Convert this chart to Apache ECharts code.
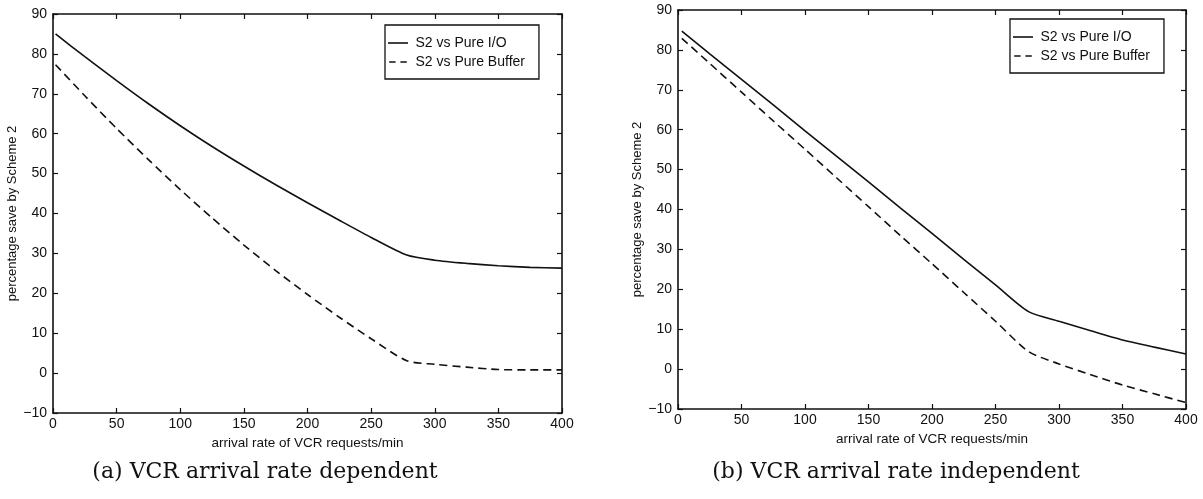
<!DOCTYPE html>
<html>
<head>
<meta charset="utf-8">
<script src="https://cdn.jsdelivr.net/npm/echarts@6/dist/echarts.min.js"></script>
<style>
html,body{margin:0;padding:0;background:#fff;}
#c{width:1203px;height:499px;}
</style>
</head>
<body>
<div id="c"></div>
<script>
// ---- data ----
const seriesNames = ['S2 vs Pure I/O', 'S2 vs Pure Buffer'];
const xTitle = 'arrival rate of VCR requests/min';
const yTitle = 'percentage save by Scheme 2';
const captionA = '(a) VCR arrival rate dependent';
const captionB = '(b) VCR arrival rate independent';

const leftX      = [2, 25, 50, 75, 100, 125, 150, 175, 200, 225, 250, 278, 300, 325, 350, 375, 400];
const leftIO     = [85, 79.3, 73.3, 67.5, 62, 56.8, 51.9, 47.2, 42.7, 38.3, 34.0, 29.6, 28.3, 27.5, 26.9, 26.5, 26.3];
const leftBuffer = [77.3, 69.5, 61.3, 53.5, 46.0, 38.9, 32.1, 25.7, 19.7, 14.0, 8.6, 3.1, 2.2, 1.5, 0.9, 0.8, 0.8];

const rightX      = [3, 25, 50, 75, 100, 125, 150, 175, 200, 225, 250, 276, 300, 325, 350, 375, 400];
const rightIO     = [84.7, 79.0, 72.6, 66.2, 59.7, 53.3, 46.9, 40.4, 34.0, 27.5, 21.1, 14.4, 12.0, 9.6, 7.3, 5.5, 3.8];
const rightBuffer = [82.9, 76.6, 69.4, 62.2, 55.1, 47.9, 40.7, 33.5, 26.4, 19.2, 12.0, 4.4, 1.3, -1.4, -4.0, -6.2, -8.4];

const xMin = 0, xMax = 400, xStep = 50;
const yMin = -10, yMax = 90, yStep = 10;

// ---- build chart ----
const pair = (xs, ys) => xs.map((x, i) => [x, ys[i]]);
const ink = '#111';
const sans = 'Liberation Sans, Arial, sans-serif';
const fmtNum = v => (v < 0 ? '\u2212' + Math.abs(v) : String(v));

const grids = [
  {left: 53, top: 14, width: 509, height: 399},
  {left: 678, top: 10, width: 508, height: 399}
];

const xAxes = [], yAxes = [];
grids.forEach((g, gi) => {
  const base = {
    type: 'value', gridIndex: gi, min: xMin, max: xMax, interval: xStep,
    splitLine: {show: false},
    axisLine: {show: true, onZero: false, lineStyle: {color: ink, width: 1.6}},
    axisTick: {show: true, inside: true, length: 5, lineStyle: {color: ink, width: 1.2}}
  };
  xAxes.push(Object.assign({}, base, {
    position: 'bottom',
    axisLabel: {color: ink, fontFamily: sans, fontSize: 14, margin: 4, formatter: fmtNum},
    name: xTitle, nameLocation: 'middle', nameGap: gi === 0 ? 22 : 20,
    nameTextStyle: {color: ink, fontFamily: sans, fontSize: 13.5}
  }));
  xAxes.push(Object.assign({}, base, {position: 'top', axisLabel: {show: false}}));
  const ybase = {
    type: 'value', gridIndex: gi, min: yMin, max: yMax, interval: yStep,
    splitLine: {show: false},
    axisLine: {show: true, onZero: false, lineStyle: {color: ink, width: 1.6}},
    axisTick: {show: true, inside: true, length: 5, lineStyle: {color: ink, width: 1.2}}
  };
  yAxes.push(Object.assign({}, ybase, {
    position: 'left',
    axisLabel: {color: ink, fontFamily: sans, fontSize: 14, margin: 6, formatter: fmtNum},
    name: yTitle, nameLocation: 'middle', nameGap: gi === 0 ? 29 : 27, nameRotate: 90,
    nameTextStyle: {color: ink, fontFamily: sans, fontSize: 13}
  }));
  yAxes.push(Object.assign({}, ybase, {position: 'right', axisLabel: {show: false}}));
});

function line(name, data, gi, dashed) {
  return {
    name: name, type: 'line', data: data,
    xAxisIndex: gi * 2, yAxisIndex: gi * 2,
    symbol: 'none', showSymbol: false, smooth: 0.25, animation: false,
    lineStyle: {color: ink, width: 1.6, type: dashed ? [8, 5] : 'solid'},
    itemStyle: {color: ink}
  };
}

const legendIcons = [
  'path://M0,0H25V2H0Z',
  'path://M0,0H8V2H0Z M14,0H22V2H14Z'
];

const legendBase = {
  orient: 'vertical',
  data: seriesNames.map((n, i) => ({name: n, icon: legendIcons[i], itemStyle: {color: ink}})),
  borderColor: ink, borderWidth: 1.3, borderRadius: 0,
  padding: [11, 14, 10, 3],
  itemWidth: 25, itemHeight: 1.6, itemGap: 5,
  textStyle: {color: ink, fontFamily: sans, fontSize: 14},
  selectedMode: false
};

const option = {
  backgroundColor: '#fff',
  animation: false,
  grid: grids,
  xAxis: xAxes,
  yAxis: yAxes,
  legend: [
    Object.assign({}, legendBase, {left: 385, top: 25}),
    Object.assign({}, legendBase, {left: 1010, top: 19})
  ],
  series: [
    line(seriesNames[0], pair(leftX, leftIO), 0, false),
    line(seriesNames[1], pair(leftX, leftBuffer), 0, true),
    line(seriesNames[0], pair(rightX, rightIO), 1, false),
    line(seriesNames[1], pair(rightX, rightBuffer), 1, true)
  ],
  graphic: [
    {type: 'text', x: 265, y: 472, style: {text: captionA, fill: ink, font: '22px "DejaVu Serif", serif', align: 'center', verticalAlign: 'middle'}},
    {type: 'text', x: 896, y: 472, style: {text: captionB, fill: ink, font: '22px "DejaVu Serif", serif', align: 'center', verticalAlign: 'middle'}}
  ]
};

const chart = echarts.init(document.getElementById('c'), null, {renderer: 'canvas'});
chart.setOption(option);
</script>
</body>
</html>
